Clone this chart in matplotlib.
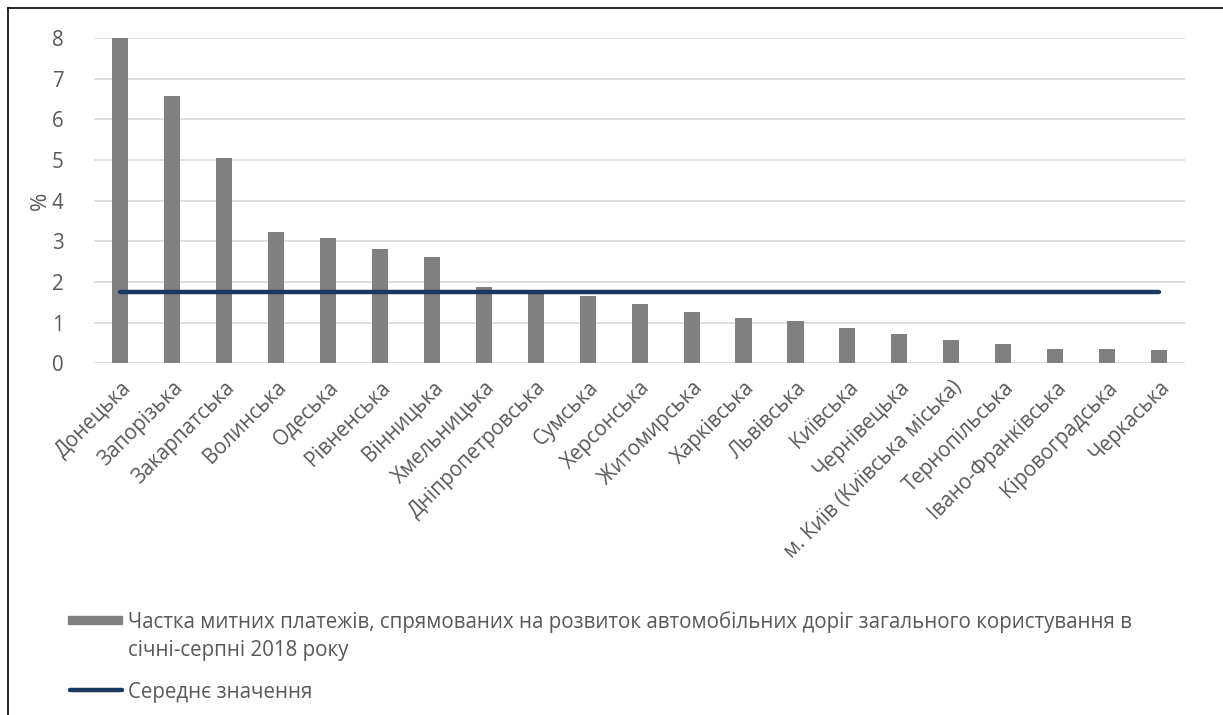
import matplotlib
matplotlib.use('Agg')
import matplotlib.pyplot as plt
import matplotlib.patches as mpatches
from matplotlib.lines import Line2D
import numpy as np

plt.rcParams['font.family'] = ['Open Sans', 'DejaVu Sans']

regions = ['Донецька', 'Запорізька', 'Закарпатська', 'Волинська', 'Одеська',
           'Рівненська', 'Вінницька', 'Хмельницька', 'Дніпропетровська', 'Сумська',
           'Херсонська', 'Житомирська', 'Харківська', 'Львівська', 'Київська',
           'Чернівецька', 'м. Київ (Київська міська)', 'Тернопільська',
           'Івано-Франківська', 'Кіровоградська', 'Черкаська']
shares = [8.0, 6.58, 5.05, 3.22, 3.07, 2.81, 2.6, 1.88, 1.75, 1.66, 1.45,
          1.25, 1.12, 1.03, 0.86, 0.71, 0.57, 0.48, 0.36, 0.36, 0.33]
mean_value = [1.75] * len(regions)

bar_label = ['Частка митних платежів, спрямованих на розвиток автомобільних доріг загального користування в',
             'січні-серпні 2018 року']
line_label = 'Середнє значення'

text_color = '#595959'
bar_color = '#808080'
line_color = '#1B375E'
fs = 14.8

W, H = 1223, 715
fig = plt.figure(figsize=(W / 100, H / 100), dpi=100)
ax = fig.add_axes([0.077, 0.492, 0.892, 0.455])

x = np.arange(len(regions))
ax.bar(x, shares, width=0.31, color=bar_color, zorder=2)
ax.plot(x, mean_value, color=line_color, linewidth=3.2, solid_capstyle='round', zorder=3)

ax.set_xlim(-0.5, len(regions) - 0.5)
ax.set_ylim(0, 8)
ax.set_yticks(range(0, 9))
ax.grid(axis='y', color='#D9D9D9', linewidth=1.2, zorder=0)
for s in ax.spines.values():
    s.set_visible(False)
ax.tick_params(axis='both', length=0, colors=text_color, labelsize=fs)
ax.tick_params(axis='y', pad=22)
ax.set_xticks(x)
ax.set_xticklabels(regions, rotation=45, ha='right', rotation_mode='anchor')
ax.tick_params(axis='x', pad=10)
ax.set_ylabel('%', color=text_color, fontsize=16, labelpad=1)

# legend below the plot (drawn by hand to match the layout)
def fx(px):
    return px / W

def fy(py):
    return 1 - py / H

fig.patches.append(mpatches.Rectangle((fx(68), fy(624)), fx(122) - fx(68), fy(616) - fy(624),
                                      transform=fig.transFigure, color=bar_color))
fig.text(fx(128), fy(620), bar_label[0], color=text_color, fontsize=fs, va='center_baseline')
fig.text(fx(128), fy(648), bar_label[1], color=text_color, fontsize=fs, va='center_baseline')
fig.lines.append(Line2D([fx(70), fx(122)], [fy(690), fy(690)], transform=fig.transFigure,
                        color=line_color, linewidth=3.2, solid_capstyle='round'))
fig.text(fx(128), fy(690), line_label, color=text_color, fontsize=fs, va='center_baseline')

# outer border: top and left edges only are visible
fig.lines.append(Line2D([fx(8), 1], [fy(8), fy(8)], transform=fig.transFigure, color='#000000', linewidth=1.2))
fig.lines.append(Line2D([fx(8), fx(8)], [fy(8), 0], transform=fig.transFigure, color='#000000', linewidth=1.2))

fig.savefig('out.png', dpi=100)
